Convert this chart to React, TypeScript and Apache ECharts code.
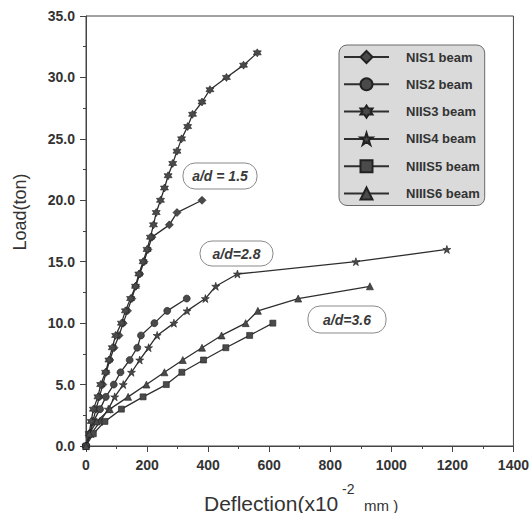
import React, { useEffect, useRef } from "react";
import * as echarts from "echarts";

// Load (ton) and deflection (x10^-2 mm) for each beam
const seriesNames = ["NIS1 beam", "NIS2 beam", "NIIS3 beam", "NIIS4 beam", "NIIIS5 beam", "NIIIS6 beam"];

const loadNIS1 = [0, 1, 2, 3, 4, 5, 6, 7, 8, 9, 10, 11, 12, 13, 14, 15, 16, 17, 18, 19, 20];
const deflNIS1 = [0, 12, 22, 33, 44, 55, 66, 78, 92, 108, 122, 136, 150, 163, 176, 190, 203, 216, 273, 298, 380];

const loadNIS2 = [0, 1, 2, 3, 4, 5, 6, 7, 8, 9, 10, 11, 12];
const deflNIS2 = [0, 13, 24, 46, 65, 91, 113, 143, 168, 180, 224, 266, 330];

const loadNIIS3 = [0, 1, 2, 3, 4, 5, 6, 7, 8, 9, 10, 11, 12, 13, 14, 15, 16, 17, 18, 19, 20, 21, 22, 23, 24, 25, 26, 27, 28, 29, 30, 31, 32];
const deflNIIS3 = [0, 10, 17, 24, 39, 48, 64, 75, 86, 97, 116, 129, 146, 162, 173, 187, 200, 211, 221, 230, 244, 257, 269, 284, 298, 313, 333, 349, 380, 406, 460, 516, 561];

const loadNIIS4 = [0, 1, 2, 3, 4, 5, 6, 7, 8, 9, 10, 11, 12, 13, 14, 15, 16];
const deflNIIS4 = [0, 18, 46, 73, 94, 122, 149, 176, 205, 233, 288, 331, 391, 425, 496, 884, 1182];

const loadNIIIS5 = [0, 1, 2, 3, 4, 5, 6, 7, 8, 9, 10];
const deflNIIIS5 = [0, 24, 62, 116, 187, 263, 314, 385, 458, 536, 612];

const loadNIIIS6 = [0, 1, 2, 3, 4, 5, 6, 7, 8, 9, 10, 11, 12, 13];
const deflNIIIS6 = [0, 11, 35, 78, 138, 198, 257, 317, 380, 444, 523, 563, 695, 930];

const annotations = ["a/d = 1.5", "a/d=2.8", "a/d=3.6"];

const HEX = "path://M50,0 L64.4,25 L93.3,25 L78.9,50 L93.3,75 L64.4,75 L50,100 L35.6,75 L6.7,75 L21.1,50 L6.7,25 L35.6,25 Z";
const STAR = "path://M50,0 L61.8,35.4 L99,35.4 L69,57.3 L80.9,92.7 L50,70.8 L19.1,92.7 L31,57.3 L1,35.4 L38.2,35.4 Z";

const FONT = "'Liberation Sans', Arial, Helvetica, sans-serif";

function pairs(d: number[], l: number[]) {
  return d.map((v, i) => [v, l[i]]);
}

export default function App() {
  const ref = useRef<HTMLDivElement>(null);
  useEffect(() => {
    const chart = echarts.init(ref.current!, null, { renderer: "svg" });
    const mk = (name: string, d: number[], l: number[], symbol: string, size: number) => ({
      name,
      type: "line",
      data: pairs(d, l),
      symbol,
      symbolSize: size,
      showSymbol: true,
      lineStyle: { color: "#2e2e2e", width: 1.3 },
      itemStyle: { color: "#4a4a4a", borderColor: "#222", borderWidth: 0.6 },
      emphasis: { disabled: true },
    });
    const box = (x: number, y: number, w: number, h: number, text: string) => ({
      type: "group",
      children: [
        {
          type: "rect",
          shape: { x, y, width: w, height: h, r: 12 },
          style: { fill: "#fff", stroke: "#8a8a8a", lineWidth: 1 },
        },
        {
          type: "text",
          x: x + w / 2,
          y: y + h / 2,
          style: {
            text,
            font: `italic bold 14px ${FONT}`,
            fill: "#3a3a3a",
            textAlign: "center",
            textVerticalAlign: "middle",
            align: "center",
            verticalAlign: "middle",
          },
        },
      ],
    });
    chart.setOption({
      animation: false,
      backgroundColor: "#fff",
      grid: { left: 86, right: 16, top: 16, bottom: 67, show: true, borderColor: "#444", borderWidth: 1, backgroundColor: "transparent" },
      xAxis: {
        type: "value",
        min: 0,
        max: 1400,
        interval: 200,
        axisLine: { show: true, lineStyle: { color: "#444", width: 1 } },
        axisTick: { show: true, length: 6, lineStyle: { color: "#444" } },
        minorTick: { show: true, splitNumber: 2, length: 3, lineStyle: { color: "#444" } },
        splitLine: { show: false },
        axisLabel: { fontFamily: FONT, fontWeight: "bold", fontSize: 14, color: "#333", margin: 12, formatter: (v: number) => String(v) },
      },
      yAxis: {
        type: "value",
        min: 0,
        max: 35,
        interval: 5,
        axisLine: { show: true, lineStyle: { color: "#444", width: 1 } },
        axisTick: { show: true, length: 6, lineStyle: { color: "#444" } },
        minorTick: { show: true, splitNumber: 2, length: 3, lineStyle: { color: "#444" } },
        splitLine: { show: false },
        axisLabel: { fontFamily: FONT, fontWeight: "bold", fontSize: 14, color: "#333", margin: 11, formatter: (v: number) => v.toFixed(1) },
      },
      legend: {
        orient: "vertical",
        left: 339,
        top: 45,
        itemWidth: 45,
        itemHeight: 15,
        itemGap: 13.3,
        padding: [5, 5, 5, 4],
        backgroundColor: "#dadada",
        borderColor: "#6a6a6a",
        borderWidth: 1,
        borderRadius: 8,
        data: seriesNames,
        textStyle: { fontFamily: FONT, fontWeight: "bold", fontSize: 13, color: "#333", padding: [0, 0, 0, 12] },
      },
      series: [
        mk(seriesNames[0], deflNIS1, loadNIS1, "diamond", 8),
        mk(seriesNames[1], deflNIS2, loadNIS2, "circle", 7),
        mk(seriesNames[2], deflNIIS3, loadNIIS3, HEX, 8),
        mk(seriesNames[3], deflNIIS4, loadNIIS4, STAR, 8),
        mk(seriesNames[4], deflNIIIS5, loadNIIIS5, "rect", 6),
        mk(seriesNames[5], deflNIIIS6, loadNIIIS6, "triangle", 7),
      ],
      graphic: [
        box(183, 163, 74, 26, annotations[0]),
        box(200, 241, 73, 25, annotations[1]),
        box(308, 306, 78, 27, annotations[2]),
        {
          type: "text",
          x: 20,
          y: 212,
          rotation: Math.PI / 2,
          style: { text: "Load(ton)", font: `18px ${FONT}`, fill: "#333", textAlign: "center", textVerticalAlign: "middle", align: "center", verticalAlign: "middle" },
        },
        {
          type: "text",
          x: 204,
          y: 503,
          style: { text: "Deflection(x10", font: `21px ${FONT}`, fill: "#333", textAlign: "left", textVerticalAlign: "middle", align: "left", verticalAlign: "middle" },
        },
        {
          type: "text",
          x: 342,
          y: 489,
          style: { text: "-2", font: `14px ${FONT}`, fill: "#333", textAlign: "left", textVerticalAlign: "middle", align: "left", verticalAlign: "middle" },
        },
        {
          type: "text",
          x: 364,
          y: 505,
          style: { text: "mm )", font: `15px ${FONT}`, fill: "#333", textAlign: "left", textVerticalAlign: "middle", align: "left", verticalAlign: "middle" },
        },
      ],
    });
    return () => chart.dispose();
  }, []);
  return <div ref={ref} style={{ position: "absolute", left: 0, top: 0, width: 532, height: 513 }} />;
}
